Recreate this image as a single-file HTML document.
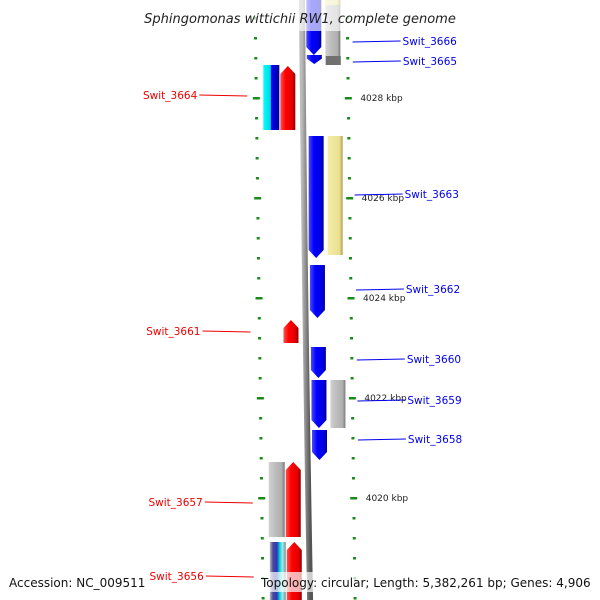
<!DOCTYPE html>
<html><head><meta charset="utf-8"><style>
html,body{margin:0;padding:0;background:#fff;}
svg{display:block;font-family:"DejaVu Sans","Liberation Sans",sans-serif;}
</style></head><body>
<svg id="map" width="600" height="600" viewBox="0 0 600 600" xmlns="http://www.w3.org/2000/svg">
<defs>
<linearGradient id="gBlue" x1="0" x2="1"><stop offset="0" stop-color="#4a4aff"/><stop offset="0.35" stop-color="#0000ff"/><stop offset="0.8" stop-color="#0000e0"/><stop offset="1" stop-color="#000090"/></linearGradient>
<linearGradient id="gRed" x1="0" x2="1"><stop offset="0" stop-color="#ff5050"/><stop offset="0.35" stop-color="#ff0000"/><stop offset="0.8" stop-color="#e00000"/><stop offset="1" stop-color="#900000"/></linearGradient>
<linearGradient id="gGray" x1="0" x2="1"><stop offset="0" stop-color="#d0d0d0"/><stop offset="0.4" stop-color="#bdbdbd"/><stop offset="0.8" stop-color="#b0b0b0"/><stop offset="1" stop-color="#7a7a7a"/></linearGradient>
<linearGradient id="gGold" x1="0" x2="1"><stop offset="0" stop-color="#f5eca8"/><stop offset="0.8" stop-color="#eadf90"/><stop offset="1" stop-color="#a89c50"/></linearGradient>
<linearGradient id="gCyan" x1="0" x2="1"><stop offset="0" stop-color="#00ffff"/><stop offset="0.45" stop-color="#00d8e0"/><stop offset="0.5" stop-color="#0000ff"/><stop offset="1" stop-color="#000090"/></linearGradient>
<linearGradient id="gMulti" x1="0" x2="1"><stop offset="0" stop-color="#bbbbbb"/><stop offset="0.2" stop-color="#4a4a9a"/><stop offset="0.45" stop-color="#3030c0"/><stop offset="0.6" stop-color="#00cccc"/><stop offset="0.8" stop-color="#9ee"/><stop offset="1" stop-color="#888"/></linearGradient>
<linearGradient id="gBack" x1="0" x2="1"><stop offset="0" stop-color="#bbb"/><stop offset="0.5" stop-color="#888"/><stop offset="1" stop-color="#555"/></linearGradient>
</defs>
<g id="ticks"></g>
<g id="backbone"></g>
<g id="genes"></g>
<g id="labels"></g>
<rect x="0" y="0" width="600" height="31" fill="#fff" fill-opacity="0.65"/>
<text x="300" y="23" text-anchor="middle" font-size="13" font-style="italic" fill="#222">Sphingomonas wittichii RW1, complete genome</text>
<rect x="258" y="572" width="336" height="20" fill="#fff" fill-opacity="0.7"/>
<text x="9" y="587" font-size="12" fill="#111">Accession: NC_009511</text>
<text x="261" y="587" font-size="12" fill="#111">Topology: circular; Length: 5,382,261 bp; Genes: 4,906</text>
</svg>
<script>
// data (kbp positions)
const geneStart = [4030.16, 4028.86, 4030.16, 4030.16, 4028.66, 4028.64, 4027.24, 4027.24, 4024.66, 4023.56, 4023.02, 4022.36, 4022.36, 4021.36, 4020.72, 4020.72, 4019.12, 4019.12];
const geneEnd   = [4028.86, 4028.68, 4028.66, 4029.86, 4027.36, 4027.36, 4024.8, 4024.86, 4023.6, 4023.1, 4022.4, 4021.4, 4021.4, 4020.76, 4019.22, 4019.22, 4017.76, 4017.76];
const geneStrand= [-1,-1,0,0,0,1,-1,0,-1,1,-1,-1,0,-1,0,1,0,1];
const geneTrack = [1,1,2,2,-2,-1,1,2,1,-1,1,1,2,1,-2,-1,-2,-1];
const geneColor = ["gBlue","gBlue","gGray","gGold","gCyan","gRed","gBlue","gGold","gBlue","gRed","gBlue","gBlue","gGray","gBlue","gGray","gRed","gMulti","gRed"];
const labelNames= ["Swit_3666","Swit_3665","Swit_3664","Swit_3663","Swit_3662","Swit_3661","Swit_3660","Swit_3659","Swit_3658","Swit_3657","Swit_3656"];
const labelKbp  = [4029.14,4028.74,4028.06,4026.08,4024.18,4023.34,4022.78,4021.96,4021.18,4019.92,4018.44];
const labelSide = [1,1,-1,1,1,-1,1,1,1,-1,-1];
const tickKbp = [4028,4026,4024,4022,4020];
const tickLabels = ["4028 kbp","4026 kbp","4024 kbp","4022 kbp","4020 kbp"];

const NS="http://www.w3.org/2000/svg";
const yOf = k => 98 + (4028 - k) * 50;
const base = y => 302 + y * 0.0135;
const trackX = {1:[4,19],2:[23,38],"-1":[-23,-8],"-2":[-40,-24]};
function mk(tag, attrs, parent){const e=document.createElementNS(NS,tag);for(const a in attrs)e.setAttribute(a,attrs[a]);parent.appendChild(e);return e;}

// backbone
const bb=document.getElementById('backbone');
const bbp=mk('path',{d:`M${base(-5)} -5 Q${base(300)-1.5} 300 ${base(605)} 605`,stroke:'url(#gBack)',"stroke-width":6,fill:'none'},bb);



// ticks
const tg=document.getElementById('ticks');
for(let k=4030.4;k>4017.9;k-=0.4){
  const kk=Math.round(k*10)/10, y=yOf(kk);
  const major=tickKbp.some(t=>Math.abs(t-kk)<0.01);
  const w=major?3.5:1.5;
  [-1,1].forEach(s=>{
    const x=base(y)+s*(s<0?47:45);
    const r=mk('rect',{x:x-w,y:y-1,width:w*2,height:2.5,fill:'#1a8a1a'},tg);
    
    
  });
}
tickKbp.forEach((k,i)=>{const y=yOf(k);
  const t=mk('text',{x:base(y)+57,y:y+3,"font-size":9,fill:'#222'},tg);t.textContent=tickLabels[i];
  
  
});

// genes
const gg=document.getElementById('genes');
for(let i=0;i<geneStart.length;i++){
  const y0=yOf(geneStart[i]),y1=yOf(geneEnd[i]);
  const bx=base((y0+y1)/2);const tx=trackX[geneTrack[i]];
  const x0=bx+tx[0],x1=bx+tx[1],xm=(x0+x1)/2;const h=Math.min(8,(y1-y0)*0.6);
  let d;
  if(geneStrand[i]===-1) d=`M${x0} ${y0} L${x1} ${y0} L${x1} ${y1-h} L${xm} ${y1} L${x0} ${y1-h} Z`;
  else if(geneStrand[i]===1) d=`M${x0} ${y1} L${x1} ${y1} L${x1} ${y0+h} L${xm} ${y0} L${x0} ${y0+h} Z`;
  else d=`M${x0} ${y0} L${x1} ${y0} L${x1} ${y1} L${x0} ${y1} Z`;
  const p=mk('path',{d:d,fill:`url(#${geneColor[i]})`},gg);
  
  
}
// dark segment on grey gene at top
const ds=mk('rect',{x:base(60)+23,y:56,width:15,height:9,fill:'#707070'},gg);



// labels
const lg=document.getElementById('labels');
labelNames.forEach((n,i)=>{
  const y=yOf(labelKbp[i]);const s=labelSide[i];
  const col=s>0?'#0000ee':'#ee0000';
  const x0=s>0?base(y)+50:base(y)-56;const x1=s>0?x0+48:x0-48;
  const l=mk('line',{x1:x0,y1:y+1,x2:x1,y2:y,stroke:col,"stroke-width":1},lg);
  
  
  const t=mk('text',{x:s>0?x1+2:x1-2,y:y+4,"font-size":10.5,fill:col,"text-anchor":s>0?'start':'end'},lg);
  t.textContent=n;
  
  
});
</script>
</body></html>
